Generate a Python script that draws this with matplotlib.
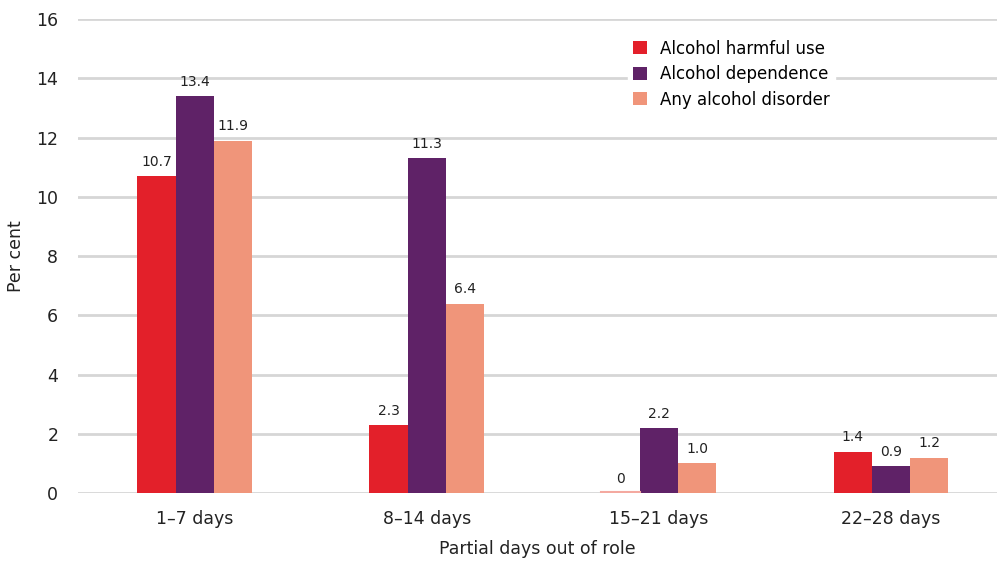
import numpy as np
import matplotlib.pyplot as plt

plt.rcParams['font.family'] = ['DejaVu Sans']

## the data
categories = ['1–7 days', '8–14 days', '15–21 days', '22–28 days']
harmful = [10.7, 2.3, 0, 1.4]
dependence = [13.4, 11.3, 2.2, 0.9]
any_disorder = [11.9, 6.4, 1.0, 1.2]

series = [('Alcohol harmful use', harmful, '#E3202A'),
          ('Alcohol dependence', dependence, '#5F2267'),
          ('Any alcohol disorder', any_disorder, '#F0957A')]

fig = plt.figure(figsize=(9.97, 5.61), dpi=100)
ax = fig.add_axes([0.078, 0.121, 0.922, 0.845])

index = np.arange(len(categories))
width = 0.165

for i, (name, vals, col) in enumerate(series):
    pos = index + (i - 1) * width
    bars = ax.bar(pos, vals, width, color=col, label=name, zorder=3)
    for b, v in zip(bars, vals):
        lab = '0' if v == 0 else f'{v:.1f}'
        ax.text(b.get_x() + b.get_width() / 2, v + 0.25, lab,
                ha='center', va='bottom', fontsize=10, color='#222222')
        if v == 0:
            ax.plot([b.get_x(), b.get_x() + b.get_width()], [0.03, 0.03],
                    color='#F4A9A0', lw=1.5, zorder=4)

## axes and labels
ax.set_ylim(0, 16)
ax.set_xlim(-0.504, 3.457)
ax.set_yticks(range(0, 17, 2))
ax.set_xticks(index)
ax.set_xticklabels(categories)
ax.tick_params(length=0, labelsize=12.5, colors='#222222')
ax.tick_params(axis='x', pad=12)
ax.tick_params(axis='y', pad=14)
ax.grid(axis='y', color='#d6d6d6', lw=2, zorder=0)
for s in ax.spines.values():
    s.set_visible(False)
ax.set_xlabel('Partial days out of role', fontsize=12.5, color='#222222', labelpad=9)
ax.set_ylabel('Per cent', fontsize=12.5, color='#222222', labelpad=8)

leg = ax.legend(loc='upper left', bbox_to_anchor=(0.59, 0.985), frameon=True,
                fontsize=12, handlelength=0.8, handleheight=0.8,
                labelspacing=0.45, borderpad=0.3, handletextpad=0.8)
leg.get_frame().set_facecolor('white')
leg.get_frame().set_edgecolor('white')
leg.get_frame().set_alpha(1)
leg.set_zorder(5)

fig.savefig('out.png', dpi=100)
